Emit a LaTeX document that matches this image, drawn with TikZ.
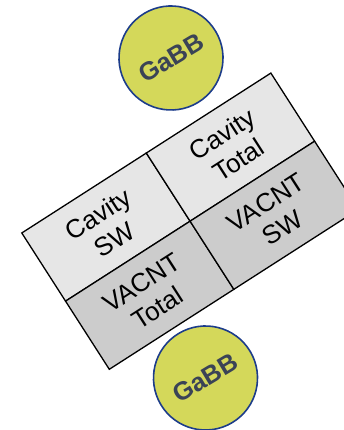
\documentclass[tikz,border=0pt]{standalone}
\usepackage{fontspec}
\setmainfont{Liberation Sans}
\usetikzlibrary{positioning}

\definecolor{gabbfill}{HTML}{D4D85A}
\definecolor{gabbline}{HTML}{1C3C8A}
\definecolor{gabbtext}{HTML}{3A4356}
\definecolor{cavityfill}{HTML}{E6E6E6}
\definecolor{vacntfill}{HTML}{CCCCCC}

\tikzset{
  cell/.style={
    draw=black,
    line width=1.3pt,
    minimum width=148pt,
    minimum height=81pt,
    inner sep=0pt,
    align=center,
    transform shape,
    font=\fontsize{26}{30}\selectfont
  },
  gabb/.style={
    circle,
    draw=gabbline,
    line width=1.6pt,
    fill=gabbfill,
    minimum size=104pt,
    text=gabbtext,
    rotate=31,
    font=\fontsize{25.5}{30}\selectfont\bfseries
  }
}

\begin{document}
\begin{tikzpicture}[x=1pt, y=1pt]
  \useasboundingbox (0,0) rectangle (343,430);
  % table of the four cells
  \begin{scope}[shift={(109.3,60.7)}, rotate=32.7]
    \node[cell, fill=cavityfill] (cavsw) at (74,121.5) {Cavity\\SW};
    \node[cell, fill=cavityfill] (cavtot) at (222,121.5) {Cavity\\Total};
    \node[cell, fill=vacntfill] (vactot) at (74,40.5) {VACNT\\Total};
    \node[cell, fill=vacntfill] (vacsw) at (222,40.5) {VACNT\\SW};
  \end{scope}
  % the two GaBB discs
  \node[gabb] (gabbtop) at (171,372) {GaBB};
  \node[gabb] (gabbbot) at (205.5,52) {GaBB};
\end{tikzpicture}
\end{document}
